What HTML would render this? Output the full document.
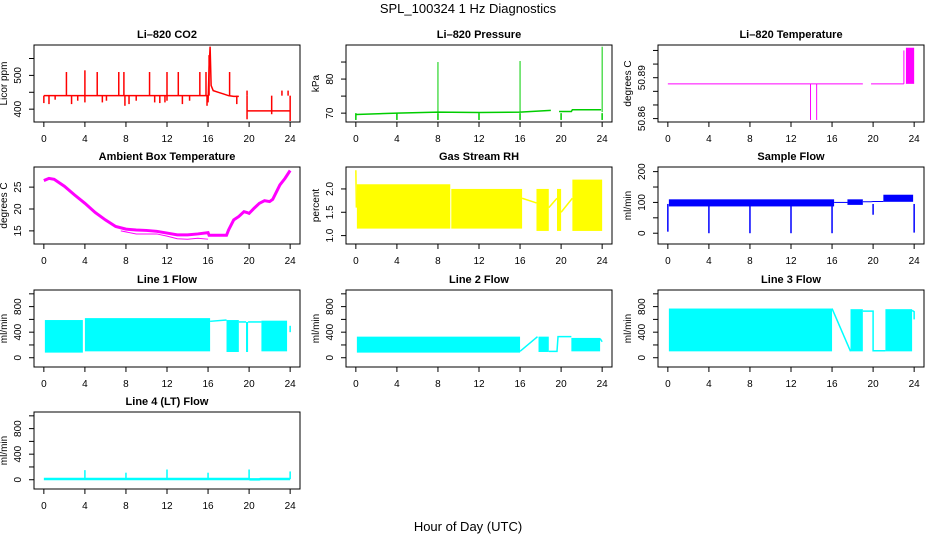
<!DOCTYPE html>
<html><head><meta charset="utf-8"><style>
html,body{margin:0;padding:0;background:#fff;}
svg{display:block;font-family:"Liberation Sans",sans-serif;}
</style></head><body>
<svg id="chart" width="936" height="540" viewBox="0 0 936 540" xmlns="http://www.w3.org/2000/svg">
<rect x="0" y="0" width="936" height="540" fill="#fff"/>
<text x="468" y="13" text-anchor="middle" font-size="13">SPL_100324  1 Hz Diagnostics</text>
<text x="468" y="531" text-anchor="middle" font-size="13">Hour of Day (UTC)</text>
</svg>
<script>
// ---- data ----
const xTicks = [0,4,8,12,16,20,24];
// CO2
const co2Hours = [0,15.9,16.0,16.1,16.2,16.3,16.5,17,17.5,18,18.5,19,null,19.8,24];
const co2Vals  = [440,440,420,520,585,470,455,450,445,440,438,438,null,395,395];
const co2UpHours = [2.2,4,5.2,7.3,7.8,10.3,12,13.1,15.2,15.8,16.1,18.1,19.8,23.2,23.8];
const co2UpVals  = [510,515,510,510,510,510,510,510,510,510,560,510,455,455,455];
const co2DownHours = [0,0.5,1.1,2.7,3.3,4,5.7,6.1,7.9,8.3,9,10.8,11.3,11.8,12,13.5,14.2,15.9,18.8,19.8,22.2,24];
const co2DownVals  = [418,415,428,415,425,420,420,425,410,415,425,420,418,420,425,415,425,410,415,370,385,365];
// Pressure
const presHours = [0,4,8,12,16,19,null,19.8,21,21.1,23.9];
const presVals  = [69.6,70.0,70.3,70.2,70.3,70.8,null,70.5,70.5,71.0,71.0];
const presUpHours = [8,16,24];
const presUpVals  = [85,85.3,89.5];
const presDownHours = [0,4,8,12,16,20,24];
const presDownVals  = [68,68,68,68,68,68,68];
// Li-820 temperature
const tempHours = [0,19,null,19.8,23.0];
const tempVals  = [50.8855,50.8855,null,50.8855,50.8855];
const tempDownHours = [13.9,14.5];
const tempDownVals  = [50.859,50.859];
const tempBandStart = [23.2];
const tempBandEnd   = [24];
const tempBandLo    = [50.8855];
const tempBandHi    = [50.912];
// Ambient temperature
const ambHours = [0,0.5,1,2,3,4,5,6,7,8,9,10,11,12,13,14,15,16,16.1,17.8,18,18.5,19,19.5,19.8,20,20.5,21,21.5,22,22.3,23,23.5,24];
const ambVals  = [26.5,27,26.8,25.2,23.2,21.3,19.2,17.5,16,15.4,15.2,15.1,14.9,14.5,14.1,14.1,14.3,14.6,14,14,15.2,17.5,18.3,19.4,19.2,19,20.2,21.3,21.9,21.7,22.2,25.5,27,28.8];
const ambLoHours = [7.5,9,11,12,13,14,15,16];
const ambLoVals  = [15,14.3,14.3,13.8,13.2,13.1,13.3,13.1];
// Gas stream RH
const rhBandStart = [0.1,9.3,17.6,19.6,21.1];
const rhBandEnd   = [9.2,16.2,18.8,20.0,24.0];
const rhBandLo    = [1.15,1.15,1.1,1.1,1.1];
const rhBandHi    = [2.1,2.0,2.0,2.0,2.2];
const rhHours = [0,0.05,0.1,null,16.2,17.6,null,18.8,19.6,null,20.0,21.1];
const rhVals  = [2.4,1.6,1.8,null,1.8,1.7,null,1.6,1.8,null,1.5,1.8];
// Sample flow
const sfBandStart = [0.1,17.5,21.0];
const sfBandEnd   = [16.2,19.0,23.9];
const sfBandLo    = [87,92,102];
const sfBandHi    = [110,110,125];
const sfHours = [16.2,17.5,null,19.0,19.8,20.0,21.0];
const sfVals  = [100,100,null,102,102,103,103];
const sfDropHours = [0,4,8,12,16,20,24];
const sfDropVals  = [5,0,0,0,0,60,2];
// Line 1 flow
const l1BandStart = [0.1,4.0,17.8,19.7,21.2];
const l1BandEnd   = [3.8,16.2,19.0,19.9,23.7];
const l1BandLo    = [80,100,90,90,100];
const l1BandHi    = [590,620,590,560,580];
const l1Hours = [16.2,17.8,null,19.0,19.7,null,19.9,21.2,null,24,24];
const l1Vals  = [570,590,null,560,560,null,560,560,null,500,400];
// Line 2 flow
const l2BandStart = [0.1,17.8,21.0];
const l2BandEnd   = [16.0,18.8,23.8];
const l2BandLo    = [80,90,100];
const l2BandHi    = [330,330,310];
const l2Hours = [16.0,17.7,null,18.8,19.6,19.7,21.0,null,23.8,24];
const l2Vals  = [100,330,null,100,100,330,330,null,300,250];
// Line 3 flow
const l3BandStart = [0.1,17.8,21.2];
const l3BandEnd   = [16.0,19.0,23.8];
const l3BandLo    = [100,100,100];
const l3BandHi    = [770,760,760];
const l3Hours = [16.0,17.8,null,19.0,20.0,20.0,21.2,null,23.8,24,24];
const l3Vals  = [770,100,null,730,730,110,110,null,740,720,600];
// Line 4 flow
const l4Hours = [0,20.0,20.1,21.0,21.1,24];
const l4Vals  = [12,12,5,5,12,12];
const l4SpikeHours = [4,8,12,16,20,24];
const l4SpikeVals  = [150,110,160,110,160,130];

// ---- drawing ----
const NS = "http://www.w3.org/2000/svg";
const svg = document.getElementById('chart');
function mk(tag, attrs, parent){
  const e = document.createElementNS(NS, tag);
  for (const k in attrs) e.setAttribute(k, attrs[k]);
  (parent||svg).appendChild(e);
  return e;
}
const colL = [34,346,658], W = 266;
const rowT = [45,167,290,412], H = 77;

function panel(col,row,title,ylab,ymin,ymax,yt,ylabels,name){
  const L = colL[col], T = rowT[row], B = T+H, R = L+W;
  const g = mk('g',{});
  
  
  const x = h => L + (h + 0.96) / 25.92 * W;
  const y = v => B - (v - ymin) / (ymax - ymin) * H;
  const t = mk('text',{x:L+W/2,y:T-7,'text-anchor':'middle','font-size':11,'font-weight':'bold'},g);
  t.textContent = title;
  
  
  const yl = mk('text',{transform:`translate(${L-27},${(T+B)/2}) rotate(-90)`,'text-anchor':'middle','font-size':10},g);
  yl.textContent = ylab;
  
  
  const xa = mk('g',{},g);
  
  
  for (const h of xTicks){
    mk('line',{x1:x(h),x2:x(h),y1:B,y2:B+5,stroke:'#000'},xa);
    const lb = mk('text',{x:x(h),y:B+20,'text-anchor':'middle','font-size':10},xa);
    lb.textContent = h;
  }
  const ya = mk('g',{},g);
  
  
  yt.forEach((v,i)=>{
    mk('line',{x1:L-5,x2:L,y1:y(v),y2:y(v),stroke:'#000'},ya);
    if (ylabels[i] !== '') {
      const lb = mk('text',{transform:`translate(${L-13},${y(v)}) rotate(-90)`,'text-anchor':'middle','font-size':10},ya);
      lb.textContent = ylabels[i];
    }
  });
  const plot = mk('g',{},g);
  
  
  const box = mk('rect',{x:L,y:T,width:W,height:H,fill:'none',stroke:'#000'},g);
  
  
  return {x,y,plot};
}
function line(p,hs,vs,color,w){
  let pts=[];
  const flush=()=>{ if(pts.length>1){ const e=mk('polyline',{points:pts.join(' '),fill:'none',stroke:color,'stroke-width':w},p.plot);
    
     } pts=[]; };
  hs.forEach((h,i)=>{ if(h===null||vs[i]===null){flush();} else pts.push(p.x(h)+','+p.y(vs[i])); });
  flush();
}
function band(p,s,e,lo,hi,color){
  s.forEach((h,i)=>{
    const r = mk('rect',{x:p.x(h),y:p.y(hi[i]),width:Math.max(1,p.x(e[i])-p.x(h)),height:p.y(lo[i])-p.y(hi[i]),fill:color},p.plot);
    
    
  });
}
function spikes(p,hs,base,vs,color,w){
  hs.forEach((h,i)=>{
    const l = mk('line',{x1:p.x(h),x2:p.x(h),y1:p.y(base),y2:p.y(vs[i]),stroke:color,'stroke-width':w},p.plot);
    
    
  });
}

// CO2
let p = panel(0,0,'Li\u2013820 CO2','Licor ppm',362,590,[400,450,500,550],['400','','500',''],'co2');
line(p,co2Hours,co2Vals,'#ff0000',1.5);
spikes(p,co2UpHours,440,co2UpVals,'#ff0000',1.5);
spikes(p,co2DownHours,440,co2DownVals,'#ff0000',1.5);
// Pressure
p = panel(1,0,'Li\u2013820 Pressure','kPa',67.4,90,[70,75,80,85],['70','','80',''],'pressure');
line(p,presHours,presVals,'#00cd00',1.5);
spikes(p,presUpHours,70.3,presUpVals,'#00cd00',1);
spikes(p,presDownHours,70,presDownVals,'#00cd00',1.5);
// Li-820 temperature
p = panel(2,0,'Li\u2013820 Temperature','degrees C',50.8575,50.914,[50.86,50.87,50.88,50.89,50.90,50.91],['50.86','','','50.89','',''],'li820-temperature');
line(p,tempHours,tempVals,'#ff00ff',1);
spikes(p,tempDownHours,50.8855,tempDownVals,'#ff00ff',1);
spikes(p,[23.0],50.8855,[50.91],'#ff00ff',1);
band(p,tempBandStart,tempBandEnd,tempBandLo,tempBandHi,'#ff00ff');
// Ambient
p = panel(0,1,'Ambient Box Temperature','degrees C',12,29.6,[15,20,25],['15','20','25'],'ambient-temperature');
line(p,ambLoHours,ambLoVals,'#ff00ff',1);
line(p,ambHours,ambVals,'#ff00ff',3);
// RH
p = panel(1,1,'Gas Stream RH','percent',0.82,2.47,[1.0,1.5,2.0],['1.0','1.5','2.0'],'gas-stream-rh');
band(p,rhBandStart,rhBandEnd,rhBandLo,rhBandHi,'#ffff00');
line(p,rhHours,rhVals,'#ffff00',1.5);
// Sample flow
p = panel(2,1,'Sample Flow','ml/min',-35,215,[0,50,100,150,200],['0','','100','','200'],'sample-flow');
band(p,sfBandStart,sfBandEnd,sfBandLo,sfBandHi,'#0000ff');
line(p,sfHours,sfVals,'#0000ff',1);
spikes(p,sfDropHours,95,sfDropVals,'#0000ff',1.5);
// Flows
const fT=[0,200,400,600,800,1000], fL=['0','','400','','800',''];
p = panel(0,2,'Line 1 Flow','ml/min',-145,1060,fT,fL,'line1-flow');
band(p,l1BandStart,l1BandEnd,l1BandLo,l1BandHi,'#00ffff');
line(p,l1Hours,l1Vals,'#00ffff',1.5);
p = panel(1,2,'Line 2 Flow','ml/min',-145,1060,fT,fL,'line2-flow');
band(p,l2BandStart,l2BandEnd,l2BandLo,l2BandHi,'#00ffff');
line(p,l2Hours,l2Vals,'#00ffff',1.5);
p = panel(2,2,'Line 3 Flow','ml/min',-145,1060,fT,fL,'line3-flow');
band(p,l3BandStart,l3BandEnd,l3BandLo,l3BandHi,'#00ffff');
line(p,l3Hours,l3Vals,'#00ffff',1.5);
p = panel(0,3,'Line 4 (LT) Flow','ml/min',-145,1060,fT,fL,'line4-flow');
line(p,l4Hours,l4Vals,'#00ffff',2.5);
spikes(p,l4SpikeHours,10,l4SpikeVals,'#00ffff',1.5);
</script>
</body></html>
